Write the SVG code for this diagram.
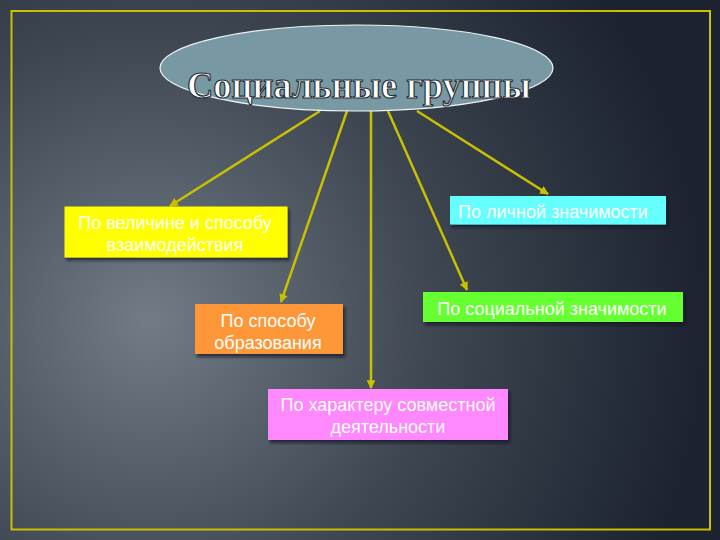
<svg xmlns="http://www.w3.org/2000/svg" width="720" height="540" viewBox="0 0 720 540">
<defs>
<radialGradient id="bg" cx="150" cy="320" r="560" gradientUnits="userSpaceOnUse">
<stop offset="0" stop-color="#717c86"/>
<stop offset="0.5" stop-color="#3e4752"/>
<stop offset="1" stop-color="#1c2230"/>
</radialGradient>
<marker id="ah" viewBox="0 0 10 10" refX="9" refY="5" markerWidth="3.5" markerHeight="3.5" orient="auto" markerUnits="strokeWidth">
<path d="M0,0 L10,5 L0,10 Z" fill="#c9c000"/>
</marker>
<filter id="sh" x="-10%" y="-10%" width="120%" height="140%">
<feDropShadow dx="2" dy="3" stdDeviation="1.5" flood-color="#111820" flood-opacity="0.7"/>
</filter>
</defs>
<style>
.box{filter:url(#sh);}
.lbl{font-family:"Liberation Sans",Arial,sans-serif;font-size:18px;fill:#ffffff;text-anchor:middle;}
.con{stroke:#c9c000;stroke-width:2.5;fill:none;marker-end:url(#ah);}
</style>
<rect x="0" y="0" width="720" height="540" fill="url(#bg)"/>
<rect x="11.5" y="11" width="698.5" height="518.5" fill="none" stroke="#c9c000" stroke-width="2"/>
<g id="connectors">
<line class="con" x1="320" y1="111" x2="170" y2="206"/>
<line class="con" x1="347" y1="111" x2="281" y2="302"/>
<line class="con" x1="371" y1="111" x2="371" y2="388"/>
<line class="con" x1="388" y1="111" x2="467" y2="290"/>
<line class="con" x1="417" y1="111" x2="548" y2="194"/>
</g>
<g id="title">
<ellipse cx="356.5" cy="68" rx="196.5" ry="43" fill="#7898a3" stroke="#f0f4f6" stroke-width="1.2"/>
<text x="359" y="98" font-family="'Liberation Serif','Times New Roman',serif" font-size="37" font-weight="bold" fill="#ffffff" stroke="#2a3038" stroke-width="1.2" text-anchor="middle" textLength="344" lengthAdjust="spacingAndGlyphs">Социальные группы</text>
</g>
<g id="n1">
<rect class="box" x="64.5" y="206.5" width="223" height="51" fill="#ffff00"/>
<text class="lbl" x="175" y="229">По величине и способу</text>
<text class="lbl" x="175" y="251">взаимодействия</text>
</g>
<g id="n2">
<rect class="box" x="195" y="304" width="148" height="50" fill="#fd9738"/>
<text class="lbl" x="268" y="327">По способу</text>
<text class="lbl" x="268" y="349">образования</text>
</g>
<g id="n3">
<rect class="box" x="450" y="196" width="216" height="28.5" fill="#66ffff"/>
<text class="lbl" x="553" y="218">По личной значимости</text>
</g>
<g id="n4">
<rect class="box" x="423" y="292" width="260" height="30" fill="#66ff33"/>
<text class="lbl" x="552" y="315">По социальной значимости</text>
</g>
<g id="n5">
<rect class="box" x="268" y="389" width="240" height="51" fill="#ff88ff"/>
<text class="lbl" x="388" y="411">По характеру совместной</text>
<text class="lbl" x="388" y="433">деятельности</text>
</g>
</svg>
